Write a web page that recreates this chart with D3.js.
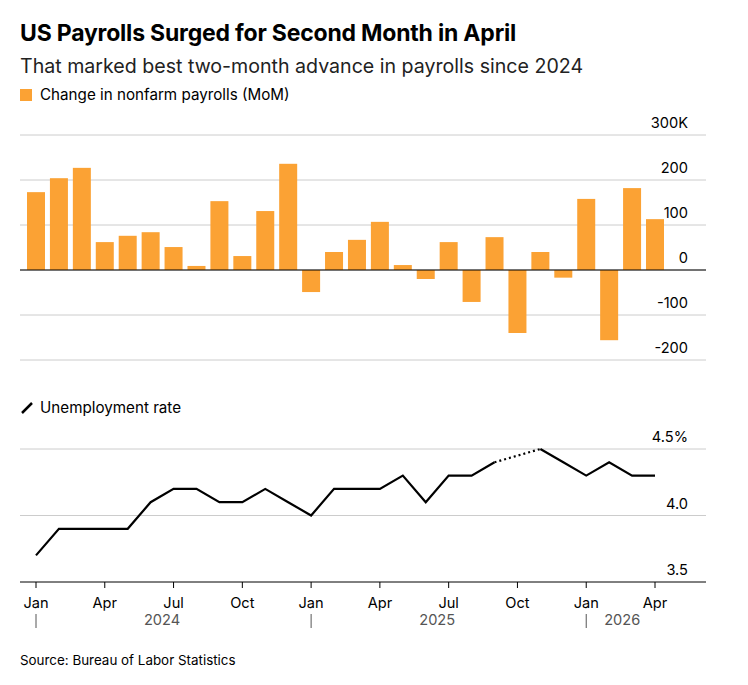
<!DOCTYPE html>
<html><head><meta charset="utf-8">
<script src="https://cdn.jsdelivr.net/npm/d3@7"></script>
<style>body{margin:0;background:#fff;font-family:Inter,"Noto Sans",sans-serif}</style>
</head><body><div id="chart"></div>
<script>
const months = ['2024-01','2024-02','2024-03','2024-04','2024-05','2024-06','2024-07','2024-08','2024-09','2024-10','2024-11','2024-12',
  '2025-01','2025-02','2025-03','2025-04','2025-05','2025-06','2025-07','2025-08','2025-09','2025-10','2025-11','2025-12',
  '2026-01','2026-02','2026-03','2026-04'];
const payrolls = [173,204,227,62,76,84,51,9,153,31,131,236,-49,40,67,107,11,-20,62,-71,73,-140,40,-17,158,-156,182,113];
const unemployment = [3.7,3.9,3.9,3.9,3.9,4.1,4.2,4.2,4.1,4.1,4.2,4.1,4.0,4.2,4.2,4.2,4.3,4.1,4.3,4.3,4.4,null,4.5,4.4,4.3,4.4,4.3,4.3];
const barTicks = [-200,-100,0,100,200,300];
const rateTicks = [3.5,4.0,4.5];
const monthLabels = {0:'Jan',3:'Apr',6:'Jul',9:'Oct'};
const years = [{i:0,label:'2024'},{i:12,label:'2025'},{i:24,label:'2026'}];

const W = 748, H = 685, orange = '#fba234';
const svg = d3.select('#chart').append('svg').attr('width', W).attr('height', H);
const x = d3.scaleLinear().domain([0, months.length - 1]).range([36, 655]);

svg.append('text').attr('x', 20).attr('y', 41).text('US Payrolls Surged for Second Month in April')
  .attr('font-size', 23).attr('font-weight', 700).attr('fill', '#000').attr('letter-spacing', -0.2);
svg.append('text').attr('x', 20).attr('y', 73).text('That marked best two-month advance in payrolls since 2024')
  .attr('font-size', 19.6).attr('fill', '#222');
svg.append('rect').attr('x', 20).attr('y', 89).attr('width', 12).attr('height', 12).attr('fill', orange);
svg.append('text').attr('x', 40).attr('y', 100).text('Change in nonfarm payrolls (MoM)').attr('font-size', 15.2).attr('fill', '#000');

// bars
const y = d3.scaleLinear().domain([-200, 300]).range([360, 135]);
barTicks.forEach(t => {
  svg.append('line').attr('x1', 20).attr('x2', 706).attr('y1', y(t)).attr('y2', y(t))
    .attr('stroke', '#ccc').attr('stroke-width', 1);
  svg.append('text').attr('x', 688).attr('y', y(t) - 7).attr('text-anchor', 'end')
    .attr('font-size', 14.6).attr('fill', '#000').text(t === 300 ? '300K' : t);
});
svg.selectAll('rect.bar').data(payrolls).enter().append('rect').attr('class', 'bar')
  .attr('x', (d, i) => x(i) - 9).attr('width', 18)
  .attr('y', d => y(Math.max(0, d))).attr('height', d => Math.abs(y(d) - y(0)))
  .attr('fill', orange);
svg.append('line').attr('x1', 20).attr('x2', 706).attr('y1', y(0)).attr('y2', y(0)).attr('stroke', '#000');

// line chart
const y2 = d3.scaleLinear().domain([3.5, 4.5]).range([582, 449]);
svg.append('line').attr('x1', 22).attr('x2', 32).attr('y1', 413).attr('y2', 403).attr('stroke', '#000').attr('stroke-width', 2.5);
svg.append('text').attr('x', 40).attr('y', 413).text('Unemployment rate').attr('font-size', 15.2).attr('fill', '#000');
rateTicks.forEach(t => {
  svg.append('line').attr('x1', 20).attr('x2', 706).attr('y1', y2(t)).attr('y2', y2(t))
    .attr('stroke', t === 3.5 ? '#000' : '#ccc');
  svg.append('text').attr('x', 688).attr('y', y2(t) - 7).attr('text-anchor', 'end')
    .attr('font-size', 14.6).attr('fill', '#000').text(t === 4.5 ? '4.5%' : t.toFixed(1));
});
const line = d3.line().defined(d => d != null).x((d, i) => x(i)).y(d => y2(d));
svg.append('path').datum(unemployment).attr('d', line).attr('fill', 'none')
  .attr('stroke', '#000').attr('stroke-width', 2.2);
const gap = unemployment.indexOf(null);
svg.append('path').datum([[gap - 1, unemployment[gap - 1]], [gap + 1, unemployment[gap + 1]]])
  .attr('d', d3.line().x(d => x(d[0])).y(d => y2(d[1]))).attr('fill', 'none')
  .attr('stroke', '#000').attr('stroke-width', 2.2).attr('stroke-dasharray', '2,3');

// x axis
months.forEach((m, i) => {
  const mi = i % 12;
  if (mi in monthLabels) {
    svg.append('line').attr('x1', x(i)).attr('x2', x(i)).attr('y1', 582).attr('y2', 588).attr('stroke', '#000');
    svg.append('text').attr('x', x(i)).attr('y', 608).attr('text-anchor', 'middle')
      .attr('font-size', 14.6).attr('fill', '#000').text(monthLabels[mi]);
  }
});
years.forEach(yr => {
  svg.append('line').attr('x1', x(yr.i)).attr('x2', x(yr.i)).attr('y1', 614).attr('y2', 628).attr('stroke', '#555');
  const end = Math.min(yr.i + 11, months.length - 1);
  svg.append('text').attr('x', yr.i === 24 ? x(yr.i) + 36 : (x(yr.i) + x(end)) / 2).attr('y', 625)
    .attr('text-anchor', 'middle').attr('font-size', 14.6).attr('fill', '#555').text(yr.label);
});

svg.append('text').attr('x', 20).attr('y', 665).text('Source: Bureau of Labor Statistics')
  .attr('font-size', 13.4).attr('fill', '#000');
</script></body></html>
